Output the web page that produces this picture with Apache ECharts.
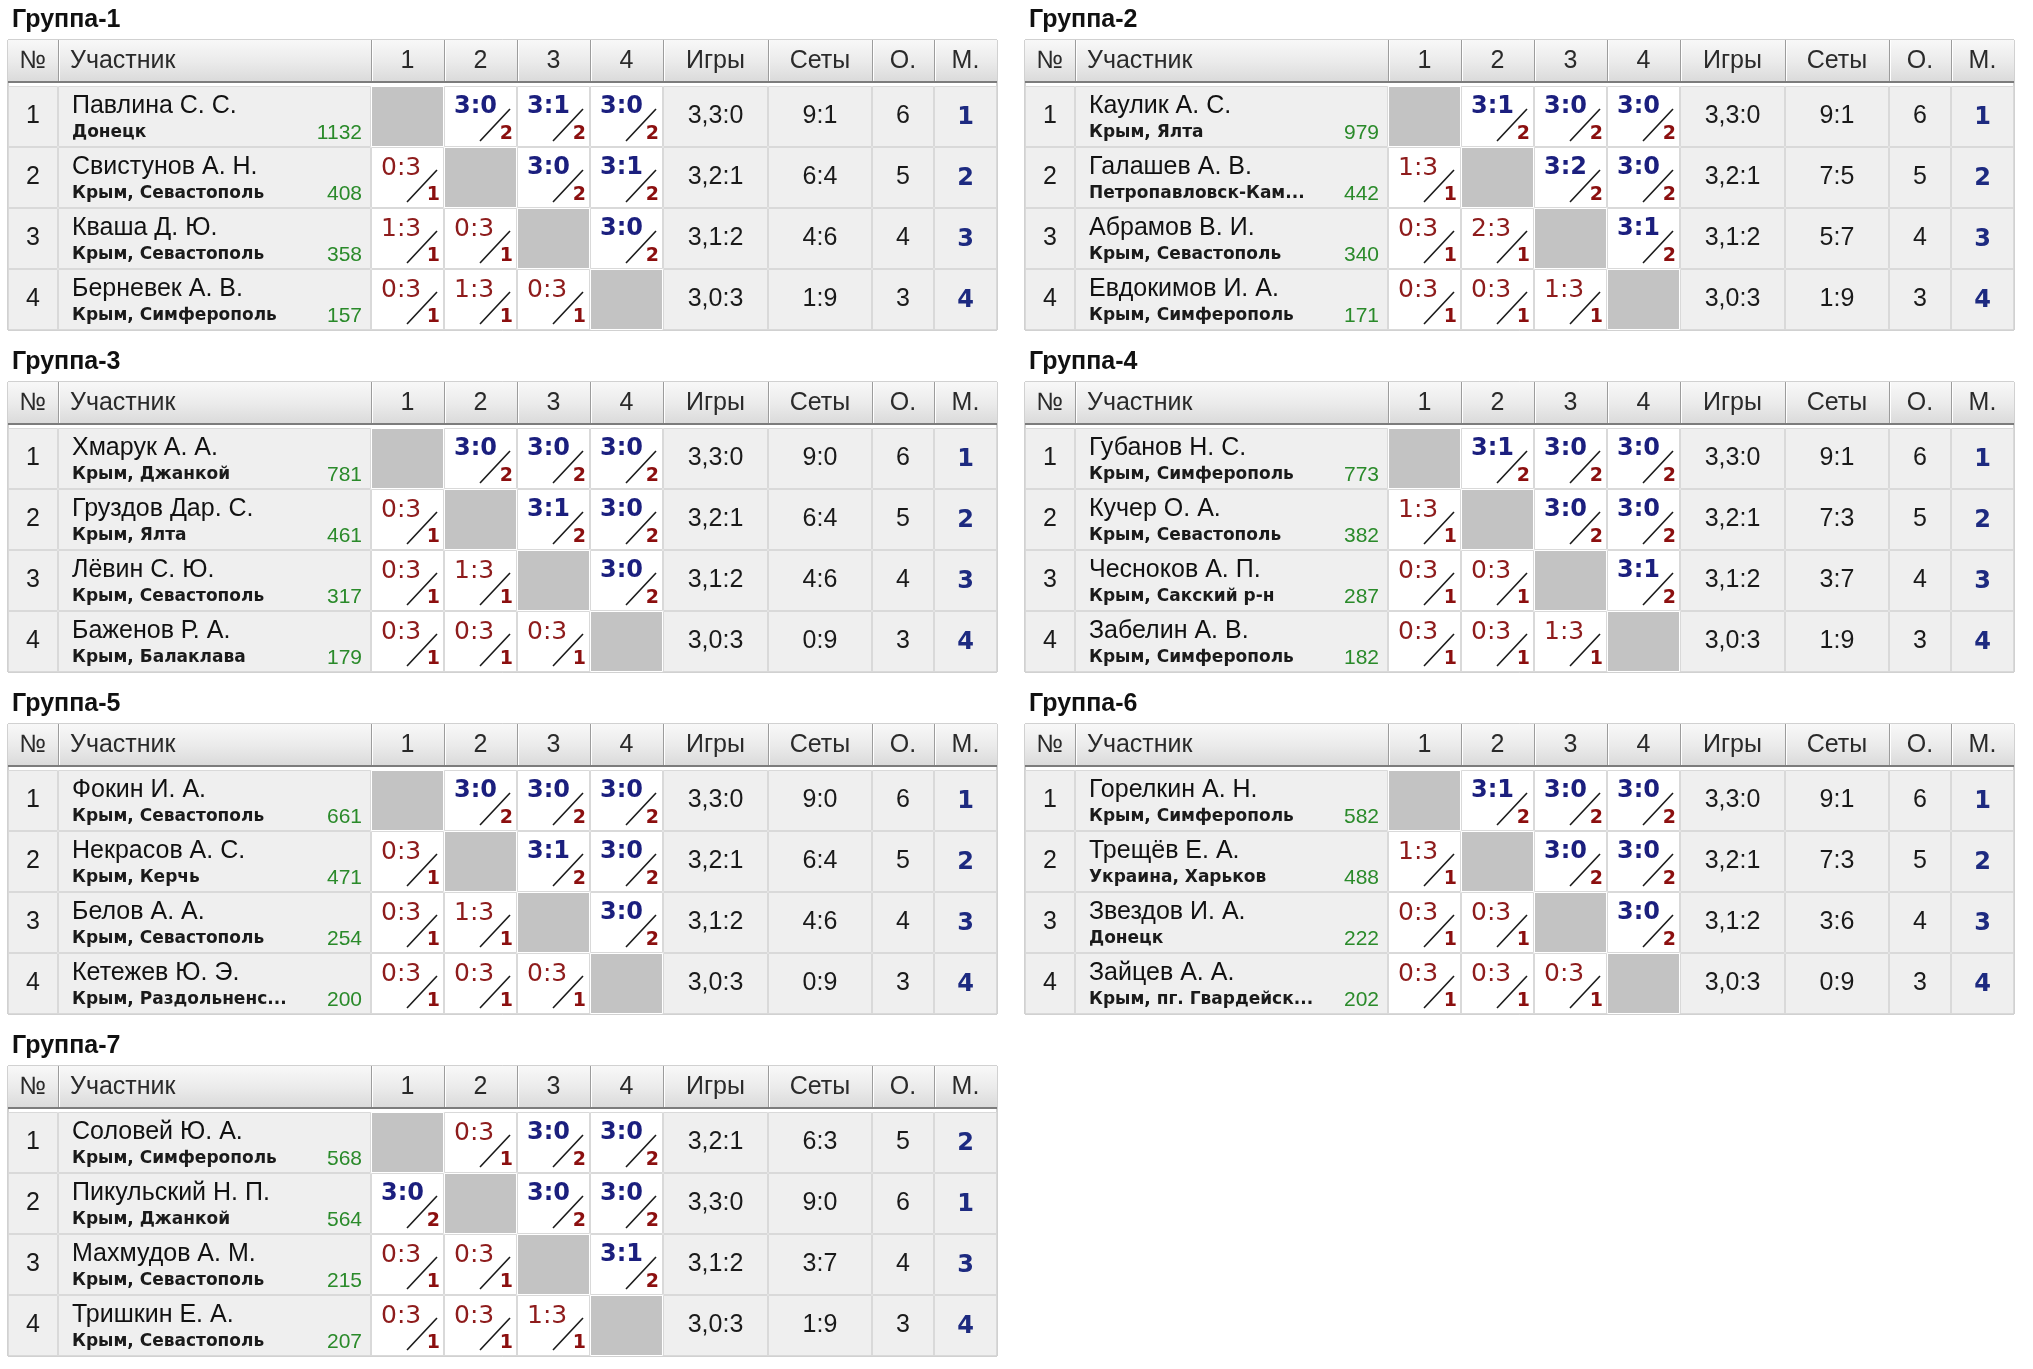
<!DOCTYPE html>
<html>
<head>
<meta charset="utf-8">
<title>Группы</title>
<script src="https://cdn.jsdelivr.net/npm/echarts@6/dist/echarts.min.js"></script>
<style>
  html, body { margin: 0; padding: 0; background: #ffffff; }
  #chart { width: 2033px; height: 1369px; }
</style>
</head>
<body>
<div id="chart"></div>
<script>
// ---- данные ----
const groupTitles = ['Группа-1', 'Группа-2', 'Группа-3', 'Группа-4', 'Группа-5', 'Группа-6', 'Группа-7'];
const headers = ['№', 'Участник', '1', '2', '3', '4', 'Игры', 'Сеты', 'О.', 'М.'];

const names = [
  ['Павлина С. С.', 'Свистунов А. Н.', 'Кваша Д. Ю.', 'Берневек А. В.'],
  ['Каулик А. С.', 'Галашев А. В.', 'Абрамов В. И.', 'Евдокимов И. А.'],
  ['Хмарук А. А.', 'Груздов Дар. С.', 'Лёвин С. Ю.', 'Баженов Р. А.'],
  ['Губанов Н. С.', 'Кучер О. А.', 'Чесноков А. П.', 'Забелин А. В.'],
  ['Фокин И. А.', 'Некрасов А. С.', 'Белов А. А.', 'Кетежев Ю. Э.'],
  ['Горелкин А. Н.', 'Трещёв Е. А.', 'Звездов И. А.', 'Зайцев А. А.'],
  ['Соловей Ю. А.', 'Пикульский Н. П.', 'Махмудов А. М.', 'Тришкин Е. А.']
];
const cities = [
  ['Донецк', 'Крым, Севастополь', 'Крым, Севастополь', 'Крым, Симферополь'],
  ['Крым, Ялта', 'Петропавловск-Кам...', 'Крым, Севастополь', 'Крым, Симферополь'],
  ['Крым, Джанкой', 'Крым, Ялта', 'Крым, Севастополь', 'Крым, Балаклава'],
  ['Крым, Симферополь', 'Крым, Севастополь', 'Крым, Сакский р-н', 'Крым, Симферополь'],
  ['Крым, Севастополь', 'Крым, Керчь', 'Крым, Севастополь', 'Крым, Раздольненс...'],
  ['Крым, Симферополь', 'Украина, Харьков', 'Донецк', 'Крым, пг. Гвардейск...'],
  ['Крым, Симферополь', 'Крым, Джанкой', 'Крым, Севастополь', 'Крым, Севастополь']
];
const ratings = [
  [1132, 408, 358, 157],
  [979, 442, 340, 171],
  [781, 461, 317, 179],
  [773, 382, 287, 182],
  [661, 471, 254, 200],
  [582, 488, 222, 202],
  [568, 564, 215, 207]
];
// счёт встречи: строка - игрок, столбец - соперник
const scores = [
  [[null, '3:0', '3:1', '3:0'], ['0:3', null, '3:0', '3:1'], ['1:3', '0:3', null, '3:0'], ['0:3', '1:3', '0:3', null]],
  [[null, '3:1', '3:0', '3:0'], ['1:3', null, '3:2', '3:0'], ['0:3', '2:3', null, '3:1'], ['0:3', '0:3', '1:3', null]],
  [[null, '3:0', '3:0', '3:0'], ['0:3', null, '3:1', '3:0'], ['0:3', '1:3', null, '3:0'], ['0:3', '0:3', '0:3', null]],
  [[null, '3:1', '3:0', '3:0'], ['1:3', null, '3:0', '3:0'], ['0:3', '0:3', null, '3:1'], ['0:3', '0:3', '1:3', null]],
  [[null, '3:0', '3:0', '3:0'], ['0:3', null, '3:1', '3:0'], ['0:3', '1:3', null, '3:0'], ['0:3', '0:3', '0:3', null]],
  [[null, '3:1', '3:0', '3:0'], ['1:3', null, '3:0', '3:0'], ['0:3', '0:3', null, '3:0'], ['0:3', '0:3', '0:3', null]],
  [[null, '0:3', '3:0', '3:0'], ['3:0', null, '3:0', '3:0'], ['0:3', '0:3', null, '3:1'], ['0:3', '0:3', '1:3', null]]
];
// очки за встречу (2 - победа, 1 - поражение)
const matchPoints = [
  [[null, 2, 2, 2], [1, null, 2, 2], [1, 1, null, 2], [1, 1, 1, null]],
  [[null, 2, 2, 2], [1, null, 2, 2], [1, 1, null, 2], [1, 1, 1, null]],
  [[null, 2, 2, 2], [1, null, 2, 2], [1, 1, null, 2], [1, 1, 1, null]],
  [[null, 2, 2, 2], [1, null, 2, 2], [1, 1, null, 2], [1, 1, 1, null]],
  [[null, 2, 2, 2], [1, null, 2, 2], [1, 1, null, 2], [1, 1, 1, null]],
  [[null, 2, 2, 2], [1, null, 2, 2], [1, 1, null, 2], [1, 1, 1, null]],
  [[null, 1, 2, 2], [2, null, 2, 2], [1, 1, null, 2], [1, 1, 1, null]]
];
const games = [
  ['3,3:0', '3,2:1', '3,1:2', '3,0:3'],
  ['3,3:0', '3,2:1', '3,1:2', '3,0:3'],
  ['3,3:0', '3,2:1', '3,1:2', '3,0:3'],
  ['3,3:0', '3,2:1', '3,1:2', '3,0:3'],
  ['3,3:0', '3,2:1', '3,1:2', '3,0:3'],
  ['3,3:0', '3,2:1', '3,1:2', '3,0:3'],
  ['3,2:1', '3,3:0', '3,1:2', '3,0:3']
];
const sets = [
  ['9:1', '6:4', '4:6', '1:9'],
  ['9:1', '7:5', '5:7', '1:9'],
  ['9:0', '6:4', '4:6', '0:9'],
  ['9:1', '7:3', '3:7', '1:9'],
  ['9:0', '6:4', '4:6', '0:9'],
  ['9:1', '7:3', '3:6', '0:9'],
  ['6:3', '9:0', '3:7', '1:9']
];
const points = [
  [6, 5, 4, 3], [6, 5, 4, 3], [6, 5, 4, 3], [6, 5, 4, 3],
  [6, 5, 4, 3], [6, 5, 4, 3], [5, 6, 4, 3]
];
const places = [
  [1, 2, 3, 4], [1, 2, 3, 4], [1, 2, 3, 4], [1, 2, 3, 4],
  [1, 2, 3, 4], [1, 2, 3, 4], [2, 1, 3, 4]
];

// ---- разметка таблицы ----
const colEdges = [0, 50, 363, 436, 509, 582, 655, 760, 864, 926, 989];
const headH = 43;
const bodyTop = 46;
const rowH = 61;
const tableW = 989;
const tableH = bodyTop + rowH * 4;
const blockLeft = [8, 1025];
const blockTop0 = 40;
const blockStep = 342;

const SANS = '"Liberation Sans", Arial, sans-serif';
const WIDE = '"DejaVu Sans", Verdana, sans-serif';

function rowSpan(r) {
  if (r === 0) return [0, headH];
  return [bodyTop + rowH * (r - 1), bodyTop + rowH * r];
}

function buildCells(g) {
  const list = [];
  headers.forEach((h, c) => list.push({ kind: 'head', col: c, row: 0, text: h }));
  for (let i = 0; i < 4; i++) {
    const r = i + 1;
    list.push({ kind: 'num', col: 0, row: r, text: String(i + 1) });
    list.push({ kind: 'name', col: 1, row: r, name: names[g][i], city: cities[g][i], rating: ratings[g][i] });
    for (let j = 0; j < 4; j++) {
      if (i === j) list.push({ kind: 'self', col: 2 + j, row: r });
      else list.push({ kind: 'match', col: 2 + j, row: r, score: scores[g][i][j], pts: matchPoints[g][i][j] });
    }
    list.push({ kind: 'stat', col: 6, row: r, text: games[g][i] });
    list.push({ kind: 'stat', col: 7, row: r, text: sets[g][i] });
    list.push({ kind: 'stat', col: 8, row: r, text: String(points[g][i]) });
    list.push({ kind: 'place', col: 9, row: r, text: String(places[g][i]) });
  }
  return list;
}

const cellsByGroup = groupTitles.map((t, g) => buildCells(g));

function makeRender(g) {
  return function (params, api) {
    const cell = cellsByGroup[g][params.dataIndex];
    const span = rowSpan(cell.row);
    const p0 = api.coord([colEdges[cell.col], span[0]]);
    const p1 = api.coord([colEdges[cell.col + 1], span[1]]);
    const x = p0[0], y = p0[1], w = p1[0] - p0[0], h = p1[1] - p0[1];
    const ch = [];

    if (cell.kind === 'head') {
      ch.push({
        type: 'rect', shape: { x: x, y: y, width: w, height: h },
        style: {
          fill: new echarts.graphic.LinearGradient(0, 0, 0, 1, [
            { offset: 0, color: '#f8f8f8' },
            { offset: 0.5, color: '#ebebeb' },
            { offset: 1, color: '#d9d9d9' }
          ])
        }
      });
      if (cell.col > 0) {
        ch.push({ type: 'line', shape: { x1: x + 0.5, y1: y, x2: x + 0.5, y2: y + h }, style: { stroke: '#9c9c9c', lineWidth: 1 } });
        ch.push({ type: 'line', shape: { x1: x + 1.5, y1: y, x2: x + 1.5, y2: y + h }, style: { stroke: '#ffffff', lineWidth: 1 } });
      }
      ch.push({ type: 'line', shape: { x1: x, y1: y + h - 1, x2: x + w, y2: y + h - 1 }, style: { stroke: '#7c7c7c', lineWidth: 2 } });
      const left = cell.col === 1;
      ch.push({
        type: 'text',
        style: {
          text: cell.text, x: left ? x + 12 : x + w / 2, y: y + h / 2,
          textAlign: left ? 'left' : 'center', textVerticalAlign: 'middle',
          fill: '#2a2a2a', font: '25px ' + SANS
        }
      });
      return { type: 'group', children: ch };
    }

    let fill = '#efefef';
    if (cell.kind === 'match') fill = '#ffffff';
    if (cell.kind === 'self') fill = '#c3c3c3';
    ch.push({
      type: 'rect', shape: { x: x + 0.5, y: y + 0.5, width: w - 1, height: h - 1 },
      style: { fill: fill, stroke: cell.kind === 'self' ? '#ffffff' : '#d9d9d9', lineWidth: 1 }
    });

    if (cell.kind === 'num' || cell.kind === 'stat') {
      ch.push({
        type: 'text',
        style: {
          text: cell.text, x: x + w / 2, y: y + h / 2,
          textAlign: 'center', textVerticalAlign: 'middle',
          fill: '#1a1a1a', font: '25px ' + SANS
        }
      });
    } else if (cell.kind === 'place') {
      ch.push({
        type: 'text',
        style: {
          text: cell.text, x: x + w / 2, y: y + h / 2 + 1,
          textAlign: 'center', textVerticalAlign: 'middle',
          fill: '#1d2a80', font: 'bold 24px ' + WIDE
        }
      });
    } else if (cell.kind === 'name') {
      ch.push({
        type: 'text',
        style: {
          text: cell.name, x: x + 14, y: y + 20,
          textAlign: 'left', textVerticalAlign: 'middle',
          fill: '#111111', font: '25px ' + SANS
        }
      });
      ch.push({
        type: 'text',
        style: {
          text: cell.city, x: x + 14, y: y + 47,
          textAlign: 'left', textVerticalAlign: 'middle',
          fill: '#1a1a1a', font: 'bold 17px ' + WIDE
        }
      });
      ch.push({
        type: 'text',
        style: {
          text: String(cell.rating), x: x + w - 9, y: y + 47,
          textAlign: 'right', textVerticalAlign: 'middle',
          fill: '#2a8a2a', font: '21px ' + SANS
        }
      });
    } else if (cell.kind === 'match') {
      const win = cell.pts === 2;
      ch.push({
        type: 'text',
        style: {
          text: cell.score, x: x + 10, y: y + 21,
          textAlign: 'left', textVerticalAlign: 'middle',
          fill: win ? '#1b1f7e' : '#8e1c1c',
          font: win ? 'bold 24px ' + WIDE : '25px ' + WIDE
        }
      });
      ch.push({
        type: 'line',
        shape: { x1: x + 36, y1: y + 55, x2: x + 66, y2: y + 23 },
        style: { stroke: '#1a1a1a', lineWidth: 1.6 }
      });
      ch.push({
        type: 'text',
        style: {
          text: String(cell.pts), x: x + w - 4, y: y + 48,
          textAlign: 'right', textVerticalAlign: 'middle',
          fill: '#8b0f0f', font: 'bold 19px ' + WIDE
        }
      });
    }
    return { type: 'group', children: ch };
  };
}

const grids = [];
const xAxes = [];
const yAxes = [];
const titles = [];
const series = [];

groupTitles.forEach((t, g) => {
  const left = blockLeft[g % 2];
  const top = blockTop0 + blockStep * Math.floor(g / 2);
  grids.push({
    left: left, top: top, width: tableW, height: tableH,
    show: true, borderColor: '#a3a3a3', borderWidth: 1, backgroundColor: 'transparent'
  });
  xAxes.push({ type: 'value', gridIndex: g, min: 0, max: tableW, show: false });
  yAxes.push({ type: 'value', gridIndex: g, min: 0, max: tableH, inverse: true, show: false });
  titles.push({
    text: t, left: left + 4, top: top - 32, padding: 0,
    textStyle: { fontFamily: SANS, fontSize: 25, fontWeight: 'bold', color: '#111111' }
  });
  series.push({
    type: 'custom',
    name: t,
    xAxisIndex: g,
    yAxisIndex: g,
    clip: false,
    renderItem: makeRender(g),
    data: cellsByGroup[g].map(c => [colEdges[c.col], rowSpan(c.row)[0]])
  });
});

const chart = echarts.init(document.getElementById('chart'), null, { renderer: 'canvas' });
chart.setOption({
  animation: false,
  backgroundColor: '#ffffff',
  title: titles,
  grid: grids,
  xAxis: xAxes,
  yAxis: yAxes,
  series: series
});
</script>
</body>
</html>
